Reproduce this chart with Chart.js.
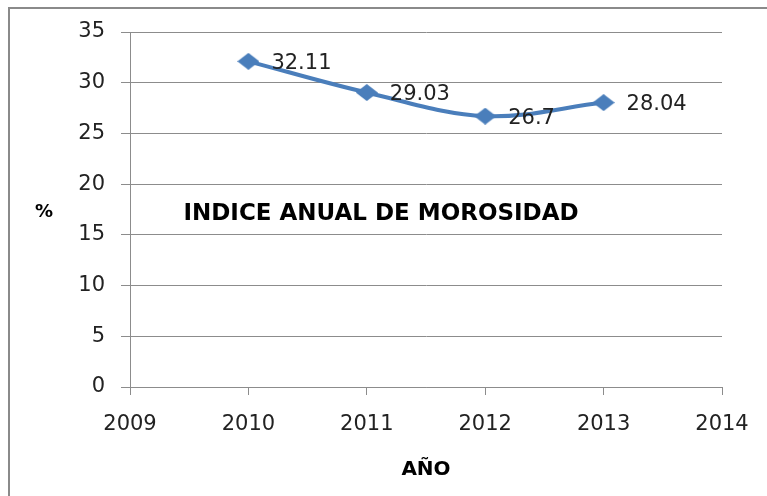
<!DOCTYPE html>
<html>
<head>
<meta charset="utf-8">
<script src="https://cdn.jsdelivr.net/npm/chart.js@4"></script>
<style>
  html, body { margin: 0; padding: 0; background: #fff; }
  #wrap { width: 767px; height: 496px; }
</style>
</head>
<body>
<div id="wrap"><canvas id="chart" width="767" height="496"></canvas></div>
<script>
const years = [2010, 2011, 2012, 2013];
const morosidad = [32.11, 29.03, 26.7, 28.04];
const xTicks = [2009, 2010, 2011, 2012, 2013, 2014];
const yTicks = [0, 5, 10, 15, 20, 25, 30, 35];

const chartTitle = "INDICE ANUAL DE MOROSIDAD";
const xTitle = "AÑO";
const yTitle = "%";

const FONT = "'DejaVu Sans', sans-serif";
const LINE_COLOR = "#4a7ebb";
const GRID_COLOR = "#8c8c8c";

// diamond marker, a bit wider than tall like the excel one
function diamond(w, h) {
  const c = document.createElement("canvas");
  c.width = w;
  c.height = h;
  const ctx = c.getContext("2d");
  ctx.fillStyle = LINE_COLOR;
  ctx.beginPath();
  ctx.moveTo(w / 2, 0);
  ctx.lineTo(w, h / 2);
  ctx.lineTo(w / 2, h);
  ctx.lineTo(0, h / 2);
  ctx.closePath();
  ctx.fill();
  return c;
}

const frame = {
  id: "frame",
  beforeDraw(chart) {
    const ctx = chart.ctx;
    ctx.save();
    ctx.fillStyle = "#fff";
    ctx.fillRect(0, 0, chart.width, chart.height);
    ctx.strokeStyle = "#8a8a8a";
    ctx.lineWidth = 2;
    ctx.strokeRect(9, 8, chart.width + 20, chart.height + 20);
    ctx.restore();
  },
  afterDraw(chart) {
    const ctx = chart.ctx;
    ctx.save();
    ctx.fillStyle = "#000";
    ctx.textBaseline = "middle";
    ctx.textAlign = "center";
    ctx.font = "bold 23px " + FONT;
    ctx.fillText(chartTitle, 381, 214);
    ctx.font = "bold 18px " + FONT;
    ctx.fillText(yTitle, 44, 212);

    // data labels to the right of each point
    const meta = chart.getDatasetMeta(0);
    ctx.font = "21px " + FONT;
    ctx.fillStyle = "#222";
    ctx.textAlign = "left";
    meta.data.forEach((pt, i) => {
      ctx.fillText(String(morosidad[i]), pt.x + 23, pt.y + 2);
    });
    ctx.restore();
  },
};

new Chart(document.getElementById("chart"), {
  type: "line",
  data: {
    datasets: [{
      data: years.map((y, i) => ({x: y, y: morosidad[i]})),
      borderColor: LINE_COLOR,
      backgroundColor: LINE_COLOR,
      borderWidth: 4,
      tension: 0.35,
      pointStyle: diamond(22, 17),
      pointRadius: 9,
    }],
  },
  options: {
    responsive: false,
    animation: false,
    layout: {padding: {top: 32, right: 45, bottom: 0, left: 0}},
    plugins: {
      legend: {display: false},
      tooltip: {enabled: false},
    },
    scales: {
      x: {
        type: "linear",
        min: xTicks[0],
        max: xTicks[xTicks.length - 1],
        afterBuildTicks: scale => {
          scale.ticks = xTicks.map(v => ({value: v}));
        },
        afterFit: scale => {
          scale.height = 109;
        },
        grid: {
          drawOnChartArea: false,
          drawTicks: true,
          tickLength: 8,
          color: GRID_COLOR,
        },
        border: {color: GRID_COLOR},
        ticks: {
          padding: 17,
          color: "#222",
          font: {family: FONT, size: 21},
          callback: v => String(v),
        },
        title: {
          display: true,
          text: xTitle,
          color: "#000",
          font: {family: FONT, size: 20, weight: "bold"},
          padding: {top: 0, bottom: 14},
        },
      },
      y: {
        min: yTicks[0],
        max: yTicks[yTicks.length - 1],
        afterBuildTicks: scale => {
          scale.ticks = yTicks.map(v => ({value: v}));
        },
        afterFit: scale => {
          scale.width = 130;
        },
        grid: {
          color: GRID_COLOR,
          tickLength: 9,
        },
        border: {color: GRID_COLOR},
        ticks: {
          padding: 16,
          color: "#222",
          font: {family: FONT, size: 21},
        },
      },
    },
  },
  plugins: [frame],
});
</script>
</body>
</html>
